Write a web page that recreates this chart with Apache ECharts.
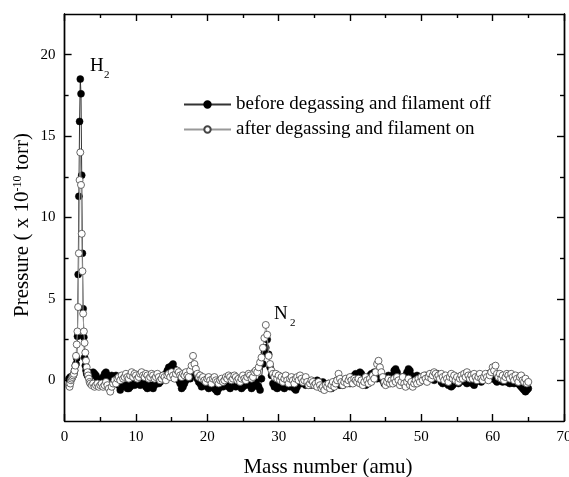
<!DOCTYPE html>
<html><head><meta charset="utf-8">
<script src="https://cdn.jsdelivr.net/npm/echarts@6/dist/echarts.min.js"></script>
<style>html,body{margin:0;padding:0;background:#fff;overflow:hidden}#c{width:569px;height:477px}</style>
</head><body><div id="c"></div>
<script>
// ---- data ----
const seriesNames = ['before degassing and filament off', 'after degassing and filament on'];
const xTickLabels = [0, 10, 20, 30, 40, 50, 60, 70];
const yTickLabels = [0, 5, 10, 15, 20];
const yMinorTicks = [2.5, 7.5, 12.5, 17.5];

// fine scan around the H2 peak (amu)
const massLow = [0.6,0.7,0.8,0.9,1.0,1.1,1.2,1.3,1.4,1.5,1.6,1.7,1.8,1.9,2.0,2.1,2.2,2.3,2.4,2.5,2.6,2.7,2.8,2.9,3.0,3.1,3.2,3.3,3.4,3.5,3.6];
const beforeLow = [0.1,0.1,0.2,0.1,0.2,0.2,0.3,0.4,0.6,0.9,1.0, 1.35,2.7,6.5,11.3,15.9,18.5,17.6,12.6,7.8,4.4,2.65, 1.4,0.9,0.6,0.4,0.3,0.5,0.4,0.2,0.3];
const afterLow  = [-0.3,-0.4,-0.2,0.0,0.1,0.2,0.3,0.4,0.6,0.9,1.5, 2.2,3.0,4.5,7.8,12.3,14.0,12.0,9.0,6.7,4.1,3.0, 2.3,1.7,1.2,0.8,0.5,0.3,0.1,-0.1,-0.2];

// regular scan 3.8 .. 65.0 amu, step 0.2
const baseStart = 3.8, baseStep = 0.2;
const beforeBase = [
 0.3,
 0.5,0.4,0.3,0.1,0.0,  -0.1,0.0,0.2,0.4,0.5,  0.3,0.1,0.2,0.3,0.1,  0.2,0.3,0.0,-0.3,-0.6,
 -0.4,-0.2,-0.1,-0.3,-0.5,  -0.5,-0.4,-0.2,-0.1,-0.3,  -0.2,0.0,-0.1,-0.3,-0.2,  -0.1,-0.2,-0.4,-0.5,-0.4,
 -0.3,-0.4,-0.5,-0.3,-0.1,  0.0,-0.2,-0.1,0.1,0.3,  0.2,0.4,0.6,0.8,0.7,  0.9,1.0,0.7,0.4,0.2,
 0.0,-0.2,-0.5,-0.4,-0.2,  0.0,0.2,0.3,0.1,0.4,  0.8,0.6,0.3,0.1,-0.1,  -0.2,-0.4,-0.3,-0.1,-0.2,
 -0.4,-0.5,-0.3,-0.2,-0.4,  -0.5,-0.6,-0.7,-0.5,-0.3,  -0.2,-0.4,-0.3,-0.1,-0.2,  -0.4,-0.5,-0.3,-0.2,-0.3,
 -0.4,-0.2,-0.1,-0.3,-0.5,  -0.4,-0.2,-0.3,-0.1,-0.2,  -0.3,-0.5,-0.4,-0.2,-0.1,  -0.3,-0.4,-0.6,0.1,1.0,
 1.7,2.0,2.5,1.6,0.8,  0.3,-0.2,-0.4,-0.3,-0.5,  -0.3,-0.4,-0.2,-0.4,-0.5,  -0.3,-0.1,-0.3,-0.4,-0.2,
 -0.3,-0.5,-0.6,-0.4,-0.2,  -0.1,-0.2,0.0,-0.1,-0.3,  -0.2,-0.1,-0.3,-0.2,-0.1,  -0.3,-0.2,0.0,-0.2,-0.4,
 -0.3,-0.1,-0.2,-0.4,-0.3,  -0.2,-0.3,-0.5,-0.4,-0.2,  -0.1,0.0,-0.2,-0.3,-0.1,  -0.3,-0.2,0.0,0.1,-0.1,
 -0.2,0.0,0.2,0.3,0.4,  0.2,0.3,0.5,0.4,0.2,  0.0,-0.3,-0.2,0.1,0.3,  0.4,0.3,0.5,0.3,0.1,
 0.5,0.4,0.2,0.0,-0.2,  -0.1,0.1,0.3,0.2,0.0,  0.3,0.6,0.7,0.5,0.2,  -0.1,0.0,0.2,0.1,0.3,
 0.5,0.7,0.6,0.3,0.1,  0.0,0.2,0.3,0.1,-0.1,  0.0,0.2,0.1,0.3,0.2,  0.1,0.3,0.4,0.2,0.0,
 0.2,0.4,0.3,0.1,-0.1,  -0.2,0.0,0.1,-0.1,-0.3,  -0.2,-0.4,-0.3,-0.1,0.1,  0.0,-0.2,-0.1,0.1,0.2,
 0.1,-0.1,-0.2,-0.1,0.1,  0.0,-0.2,-0.3,-0.1,0.0,  0.2,0.1,-0.1,0.0,0.1,  0.3,0.2,0.4,0.3,0.1,
 0.3,0.2,0.0,-0.1,0.0,  0.2,0.1,-0.1,0.0,0.1,  -0.1,0.0,-0.2,-0.1,0.0,  -0.2,-0.1,0.0,-0.2,-0.3,
 -0.4,-0.5,-0.6,-0.7,-0.6,
 -0.5
];
const afterBase = [
 -0.3,
 -0.2,-0.4,-0.3,-0.2,-0.4,  -0.3,-0.2,-0.4,-0.3,-0.1,  -0.3,-0.5,-0.7,-0.4,-0.2,  0.0,-0.2,0.1,0.2,0.0,
 0.3,0.1,0.2,0.4,0.2,  0.1,0.3,0.5,0.2,0.4,  0.3,0.1,0.2,0.4,0.5,  0.3,0.2,0.4,0.3,0.1,
 0.2,0.4,0.3,0.1,0.2,  0.4,0.2,0.0,0.1,0.3,  0.2,0.0,0.3,0.4,0.2,  0.5,0.3,0.1,0.4,0.6,
 0.5,0.3,0.2,0.4,0.3,  0.5,0.3,0.2,0.6,0.9,  1.5,1.0,0.7,0.4,0.2,  0.3,0.1,0.2,0.0,-0.1,
 0.1,0.2,0.0,-0.2,0.1,  0.2,0.0,-0.1,-0.2,0.0,  0.1,-0.1,0.0,0.2,0.1,  0.3,0.2,0.0,0.1,0.3,
 0.2,0.0,0.1,-0.1,0.1,  0.3,0.1,0.0,0.2,0.4,  0.3,0.1,0.2,0.5,0.6,  0.5,0.8,1.1,1.4,2.0,
 2.6,3.4,2.8,1.5,1.0,  0.6,0.4,0.2,0.4,0.1,  0.3,0.0,0.2,-0.1,0.1,  0.3,0.0,-0.2,0.1,0.2,
 0.0,-0.2,0.1,0.2,0.0,  0.3,0.1,-0.1,0.0,0.2,  -0.1,-0.3,-0.2,0.0,-0.1,  -0.3,-0.2,-0.4,-0.1,-0.3,
 -0.5,-0.4,-0.6,-0.3,-0.4,  -0.2,-0.5,-0.3,-0.1,-0.4,  -0.2,0.0,0.4,0.1,-0.1,  -0.3,-0.1,0.1,-0.2,0.0,
 0.2,0.0,-0.2,0.1,0.0,  -0.1,0.1,-0.2,0.0,-0.3,  -0.1,0.2,0.0,-0.2,0.1,  -0.1,0.3,0.1,0.5,1.0,
 1.2,0.8,0.5,0.2,-0.1,  -0.3,-0.1,0.1,-0.2,0.0,  -0.2,0.1,-0.1,0.2,0.0,  -0.3,-0.1,0.2,-0.2,-0.4,
 -0.1,0.1,-0.3,-0.1,-0.4,  -0.2,0.0,-0.2,0.1,-0.1,  0.2,0.0,0.3,0.1,-0.1,  0.2,0.4,0.1,0.3,0.5,
 0.4,0.2,0.3,0.1,0.4,  0.2,0.0,0.3,0.1,-0.1,  0.2,0.4,0.1,0.3,0.0,  0.2,-0.1,0.1,0.3,0.1,
 0.4,0.2,0.5,0.3,0.1,  0.3,0.1,0.4,0.2,0.0,  0.2,0.4,0.1,0.0,0.2,  0.4,0.2,0.0,0.3,0.5,
 0.8,0.6,0.9,0.4,0.2,  0.4,0.1,0.3,0.0,0.2,  0.4,0.3,0.1,0.4,0.2,  0.0,0.3,0.1,-0.1,0.2,
 0.3,0.0,-0.1,0.1,-0.2,
 -0.1
];

function buildPairs(lowVals, baseVals) {
  const out = massLow.map((m, i) => [m, lowVals[i]]);
  baseVals.forEach((v, i) => out.push([+(baseStart + i * baseStep).toFixed(1), v]));
  return out;
}

// ---- chart ----
const SERIF = '"Liberation Serif", "DejaVu Serif", serif';
const chart = echarts.init(document.getElementById('c'), null, {renderer: 'canvas'});
const lineW = 1.4;
const axisCommon = {
  type: 'value',
  axisLine: {show: true, onZero: false, lineStyle: {color: '#000', width: lineW}},
  splitLine: {show: false},
};
function xAx(pos, showLabel) {
  return Object.assign({}, axisCommon, {
    position: pos, min: 0, max: 70, interval: 10,
    axisTick: {show: true, inside: true, length: 7, lineStyle: {color: '#000', width: lineW}},
    minorTick: {show: true, splitNumber: 2, length: 4, lineStyle: {color: '#000', width: lineW}},
    axisLabel: {show: showLabel, color: '#000', fontFamily: SERIF, fontSize: 15, margin: 9,
      customValues: xTickLabels, showMaxLabel: true, hideOverlap: false}
  });
}
function yAx(pos, ticks, len, showLabel) {
  return Object.assign({}, axisCommon, {
    position: pos, min: -2.5, max: 22.5,
    axisTick: {show: true, inside: true, length: len, customValues: ticks,
      lineStyle: {color: '#000', width: lineW}},
    axisLabel: {show: showLabel, color: '#000', fontFamily: SERIF, fontSize: 15, margin: 9,
      customValues: yTickLabels}
  });
}

chart.setOption({
  animation: false,
  backgroundColor: '#fff',
  grid: {left: 64.6, right: 5, top: 14, bottom: 56, containLabel: false, outerBoundsMode: 'none'},
  xAxis: [xAx('bottom', true), xAx('top', false)],
  yAxis: [
    yAx('left', yTickLabels, 7, true),
    yAx('left', yMinorTicks, 4, false),
    yAx('right', yTickLabels, 7, false),
    yAx('right', yMinorTicks, 4, false)
  ],
  legend: {
    orient: 'vertical', left: 183, top: 95, padding: 0,
    itemWidth: 47, itemHeight: 8, itemGap: 6,
    textStyle: {color: '#000', fontFamily: SERIF, fontSize: 19, lineHeight: 18, padding: [0, 0, 0, 0]},
    data: seriesNames
  },
  series: [
    {
      name: seriesNames[0], type: 'line', data: buildPairs(beforeLow, beforeBase),
      symbol: 'circle', symbolSize: 7, showAllSymbol: true,
      lineStyle: {color: '#333', width: 1},
      itemStyle: {color: '#000', borderColor: '#000', borderWidth: 0.5},
      z: 2
    },
    {
      name: seriesNames[1], type: 'line', data: buildPairs(afterLow, afterBase),
      symbol: 'circle', symbolSize: 7, showAllSymbol: true,
      lineStyle: {color: '#999', width: 1},
      itemStyle: {color: '#fff', borderColor: '#444', borderWidth: 0.8},
      z: 3
    }
  ],
  graphic: [
    {type: 'text', left: 90, top: 57, style: {text: 'H', font: '19px ' + SERIF, fill: '#000'}},
    {type: 'text', left: 104, top: 70, style: {text: '2', font: '11px ' + SERIF, fill: '#000'}},
    {type: 'text', left: 274, top: 305, style: {text: 'N', font: '19px ' + SERIF, fill: '#000'}},
    {type: 'text', left: 290, top: 318, style: {text: '2', font: '11px ' + SERIF, fill: '#000'}},
    {type: 'text', x: 328, y: 467, style: {text: 'Mass number (amu)', font: '21px ' + SERIF, fill: '#000',
      align: 'center', verticalAlign: 'middle'}},
    {type: 'text', x: 22, y: 225, rotation: Math.PI / 2,
      style: {text: '{m|Pressure ( x 10}{s|-10}{m| torr)}', align: 'center', verticalAlign: 'middle',
        rich: {m: {font: '21px ' + SERIF, fill: '#000', verticalAlign: 'bottom'},
               s: {font: '12px ' + SERIF, fill: '#000', verticalAlign: 'top'}}}}
  ]
});
</script>
</body></html>
